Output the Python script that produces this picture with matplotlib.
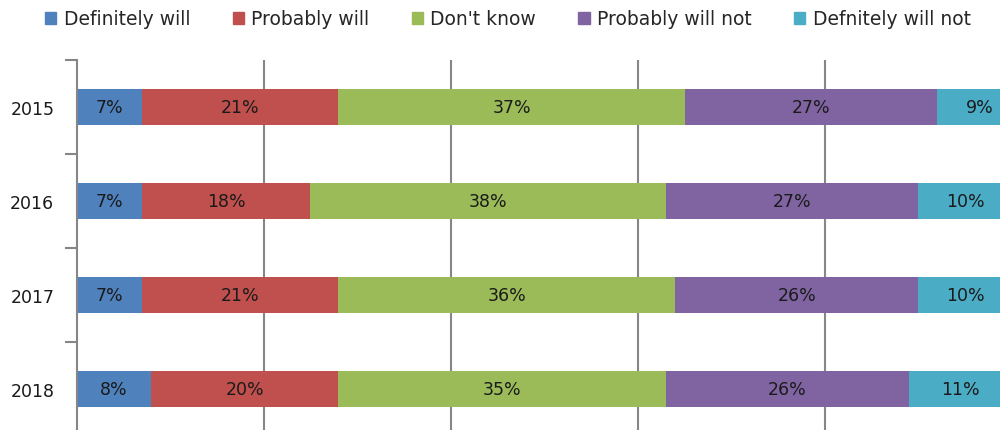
import numpy as np
import matplotlib
matplotlib.use("Agg")
from matplotlib import pyplot as plt
from matplotlib.patches import Patch

years = ["2015", "2016", "2017", "2018"]
series = ["Definitely will", "Probably will", "Don't know", "Probably will not", "Defnitely will not"]
definitely_will = [7, 7, 7, 8]
probably_will = [21, 18, 21, 20]
dont_know = [37, 38, 36, 35]
probably_will_not = [27, 27, 26, 26]
definitely_will_not = [9, 10, 10, 11]

colors = ["#4F81BD", "#C0504D", "#9BBB59", "#8064A2", "#4BACC6"]
grey = "#868686"


def main():
    values = np.array([definitely_will, probably_will, dont_know,
                       probably_will_not, definitely_will_not], dtype=float)

    fig = plt.figure(figsize=(10, 4.31), dpi=100)
    ax = fig.add_axes([0.0765, -0.014, 0.9355, 0.8725])

    y = np.arange(len(years))
    left = np.zeros(len(years))
    for i, name in enumerate(series):
        ax.barh(y, values[i], left=left, height=0.38, color=colors[i], zorder=2)
        for j in range(len(years)):
            ax.text(left[j] + values[i, j] / 2, y[j], "%d%%" % values[i, j],
                    ha="center", va="center", fontsize=12.5, color="#1a1a1a", zorder=3)
        left += values[i]

    ax.set_xlim(0, 100)
    ax.set_ylim(len(years) - 0.5, -0.5)
    ax.set_xticks([20, 40, 60, 80])
    ax.xaxis.grid(True, color=grey, linewidth=1.5, zorder=0)
    ax.set_axisbelow(True)
    ax.tick_params(axis="x", length=0, labelbottom=False)

    # year labels sit between the boundary ticks
    ax.set_yticks(np.arange(-0.5, len(years) + 0.5, 1.0))
    ax.set_yticklabels([])
    ax.set_yticks(y, minor=True)
    ax.set_yticklabels(years, minor=True, fontsize=12.5, color="#1a1a1a",
                       va="center_baseline")
    ax.tick_params(axis="y", which="major", length=9, width=1.5, color=grey)
    ax.tick_params(axis="y", which="minor", length=0, pad=16)

    for s in ["top", "right", "bottom"]:
        ax.spines[s].set_visible(False)
    ax.spines["left"].set_color(grey)
    ax.spines["left"].set_linewidth(1.5)

    handles = [Patch(color=c) for c in colors]
    fig.legend(handles, series, loc="upper center", bbox_to_anchor=(0.508, 1.015),
               ncol=5, frameon=False, fontsize=13.5, handlelength=0.6,
               handleheight=0.6, handletextpad=0.4, columnspacing=2.25,
               labelcolor="#262626")

    fig.savefig("out.png", dpi=100)


if __name__ == "__main__":
    main()
